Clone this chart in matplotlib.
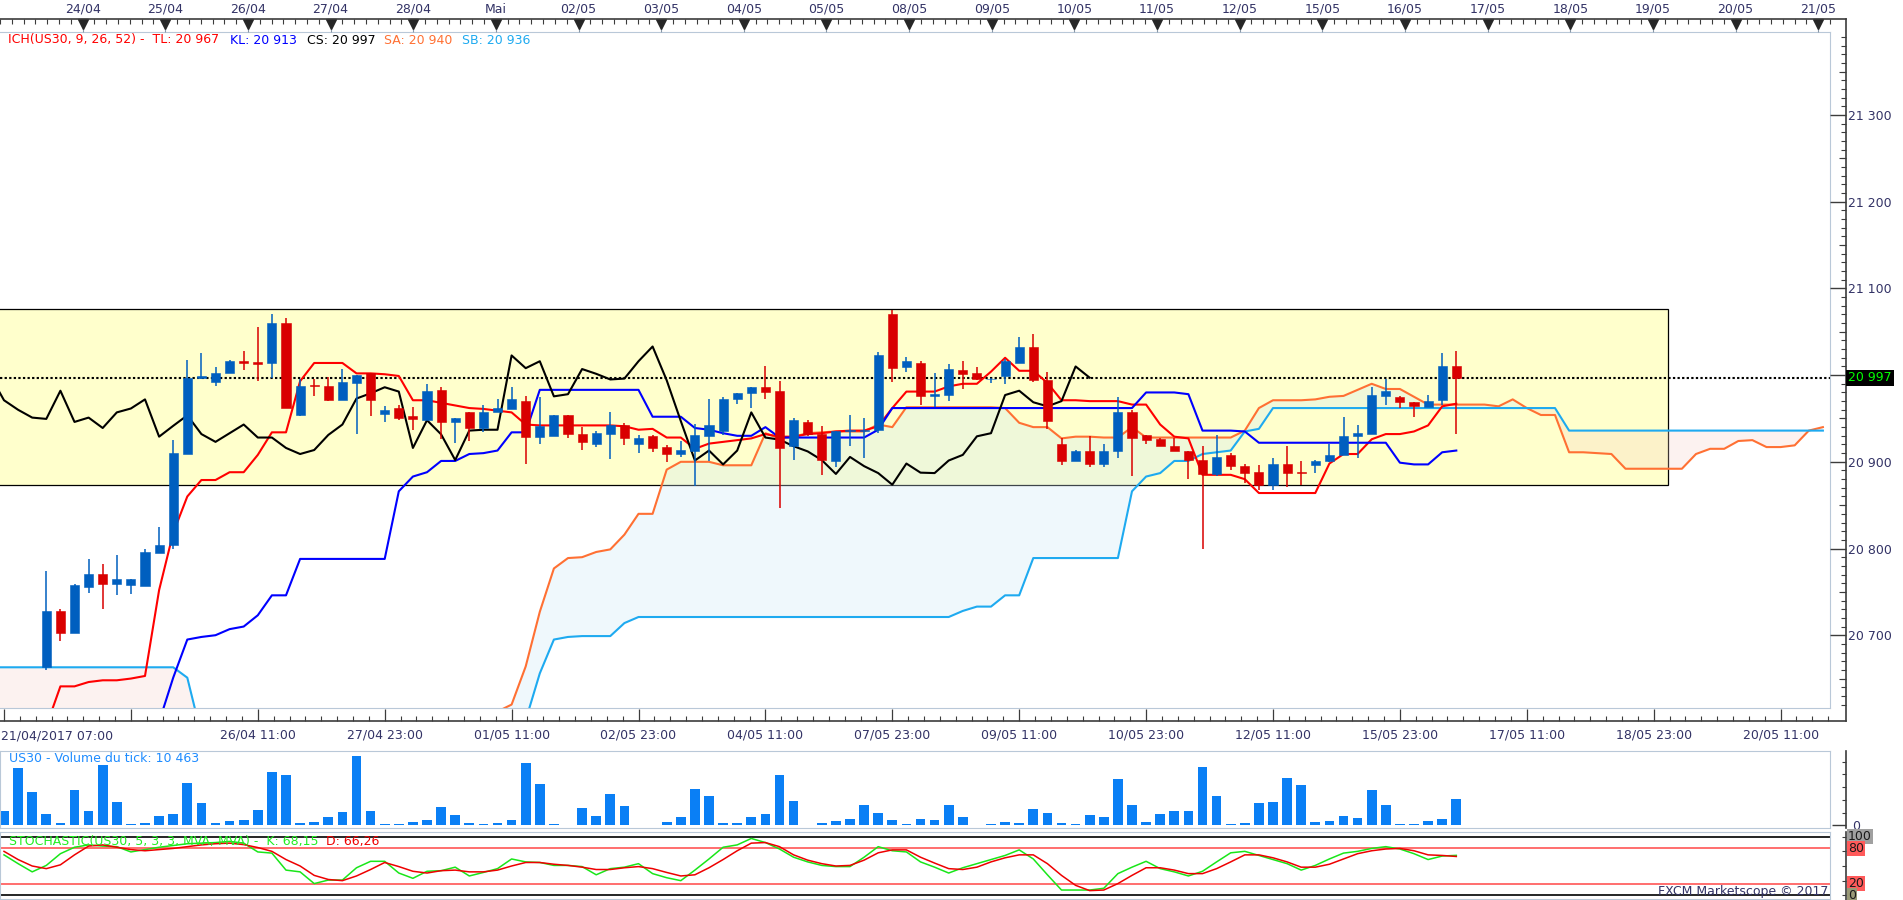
import numpy as np
import matplotlib.pyplot as plt
from matplotlib.patches import Rectangle
from matplotlib.lines import Line2D

# US30 H4 candles (index 0 = 21/04 07:00)
opens = [20560, 20575, 20555, 20663, 20728, 20703, 20756, 20771, 20759, 20758,
         20757, 20795, 20804, 20909, 20997, 20992, 21003, 21016, 21015, 21014,
         21060, 20954, 20989, 20987, 20971, 20991, 21002, 20955, 20962, 20952.5,
         20948, 20983, 20946, 20957, 20938.5, 20957, 20961, 20970.6, 20929, 20930,
         20953.6, 20932, 20921, 20932.5, 20942, 20920, 20930, 20917, 20908.7, 20912.8,
         20930, 20935, 20973, 20979, 20986, 20982, 20918, 20945.7, 20931.7, 20901.5,
         20936, 20936, 20936.6, 21070.6, 21009.5, 21014, 20976, 20977, 21005.7, 21003,
         20995, 20999, 21014, 21033, 20994, 20921, 20901, 20913, 20897, 20912,
         20957, 20931, 20926, 20918.5, 20912.4, 20902.6, 20886, 20908, 20895.5, 20888,
         20873.6, 20898, 20888, 20896, 20901, 20907.5, 20929.4, 20932, 20976, 20974.7,
         20969, 20963, 20971, 21011]
highs = [20585, 20600, 20595, 20774, 20730, 20759, 20788, 20782, 20793, 20765,
         20800, 20825, 20925, 21018, 21026, 21009, 21018, 21028, 21056, 21071,
         21066, 20996, 20995, 20998, 21007, 21000, 21002, 20964, 20966, 20963,
         20990, 20986, 20951, 20957, 20966, 20972, 20986, 20975.5, 20975, 20954,
         20954, 20940, 20935, 20957, 20945, 20931, 20931, 20919, 20924, 20944,
         20973, 20975, 20979, 20986, 21010, 20993.6, 20950.6, 20948, 20941, 20936,
         20953.6, 20951, 21027, 21074.8, 21021, 21016, 21002, 21013, 21016, 21009,
         20997, 21019, 21043.4, 21047, 21004, 20927, 20914, 20930, 20921, 20974.7,
         20960, 20931, 20928, 20928, 20912.4, 20918, 20931, 20910, 20897, 20896,
         20904, 20918, 20901, 20902, 20921, 20952, 20942, 20986, 20996, 20976,
         20969, 20977, 21025, 21028]
lows = [20545, 20540, 20550, 20660, 20693, 20702, 20749, 20730, 20746, 20748,
        20757, 20795, 20799, 20909, 20995, 20988, 21003, 21006, 20993, 20997,
        20962, 20953, 20976, 20970, 20971, 20932, 20953, 20946, 20948, 20937,
        20948, 20926, 20922, 20924, 20934, 20957, 20961, 20897, 20921, 20930,
        20928, 20914, 20916.6, 20903, 20919, 20910, 20911, 20900, 20906, 20872.4,
        20901, 20931, 20967, 20961.5, 20972, 20847, 20902.6, 20930, 20885, 20893.6,
        20918, 20904, 20933, 20992.5, 21004, 20966, 20963, 20970, 20984, 20994,
        20991, 20990, 21014, 20992.5, 20938, 20896, 20901, 20893.6, 20893.6, 20904,
        20884, 20920, 20918, 20912, 20880, 20799, 20884, 20891, 20875.4, 20868,
        20867, 20870.5, 20873.6, 20887, 20900, 20907.5, 20904.5, 20932, 20965, 20961.5,
        20951.7, 20963, 20966, 20932]
closes = [20575, 20555, 20590, 20728, 20703, 20758, 20771, 20759, 20765, 20765,
          20796, 20804, 20910, 20997, 20999, 21003, 21016, 21014, 21013, 21060,
          20962, 20988, 20987, 20971, 20992, 21000, 20971, 20960, 20951, 20949.5,
          20982, 20946, 20951, 20939, 20957, 20961.5, 20972, 20929, 20941.5, 20953.6,
          20932, 20923, 20933, 20943, 20928, 20928, 20916, 20909, 20913.6, 20931,
          20943, 20973, 20979, 20986, 20981, 20916, 20948, 20931.7, 20902, 20936,
          20937, 20937, 21022.7, 21008, 21016, 20975.5, 20978, 21007, 21001.5, 20995,
          20996, 21016, 21033, 20994, 20947, 20901.5, 20913, 20897, 20913, 20957,
          20928, 20925.6, 20918, 20912, 20902, 20886, 20905.6, 20895, 20887, 20873.6,
          20898, 20887.5, 20887, 20901.5, 20908, 20929.4, 20933, 20977, 20982, 20968.7,
          20964, 20970, 21010, 20997]

# Ichimoku lines as drawn (tenkan / kijun per candle)
tenkan = [20590, 20590, 20590, 20595, 20641, 20641, 20646, 20648, 20648, 20650,
          20653, 20752, 20818, 20860, 20879, 20879, 20888, 20888, 20908, 20934,
          20934, 20993, 21014, 21014, 21014, 21002, 21002, 21001, 20999, 20971,
          20971, 20968, 20965, 20962, 20961, 20959, 20957, 20943, 20942, 20942,
          20942, 20942, 20942, 20942, 20941, 20937, 20938, 20928, 20928, 20915,
          20921, 20923, 20925, 20927, 20932, 20929, 20929, 20932, 20933, 20935,
          20936, 20936, 20941, 20962, 20981, 20981, 20981, 20987, 20990, 20990,
          21004, 21020, 21005, 21005, 20991, 20971, 20971, 20970, 20970, 20970,
          20966, 20966, 20943, 20929, 20927, 20885, 20885, 20885, 20880, 20864,
          20864, 20864, 20864, 20864, 20898, 20909, 20909, 20926, 20932, 20932,
          20935, 20942, 20964, 20967]
kijun = [20590, 20590, 20590, 20590, 20590, 20590, 20590, 20590, 20590, 20590,
         20590, 20600, 20651, 20695, 20698, 20700, 20707, 20710, 20723, 20746,
         20746, 20788, 20788, 20788, 20788, 20788, 20788, 20788, 20866, 20883,
         20888, 20901, 20901, 20909, 20910, 20913, 20934, 20934, 20983, 20983,
         20983, 20983, 20983, 20983, 20983, 20983, 20952, 20952, 20952, 20939,
         20937, 20933, 20930, 20930, 20940, 20928, 20928, 20928, 20928, 20928,
         20928, 20928, 20937, 20962, 20962, 20962, 20962, 20962, 20962, 20962,
         20962, 20962, 20962, 20962, 20962, 20962, 20962, 20962, 20962, 20962,
         20962, 20980, 20980, 20980, 20978, 20936, 20936, 20936, 20935, 20922,
         20922, 20922, 20922, 20922, 20922, 20922, 20922, 20922, 20922, 20899,
         20897, 20897, 20911, 20913]

# senkou spans as plotted (already moved 26 forward), positions -1 .. 129
senkou_a = [20570, 20570, 20570, 20570, 20570, 20570, 20570, 20570, 20570, 20570,
            20570, 20570, 20570, 20570, 20570, 20570, 20570, 20570, 20570, 20570,
            20570, 20570, 20570, 20570, 20570, 20570, 20570, 20570, 20570, 20570,
            20570, 20570, 20570, 20570, 20570, 20590, 20612, 20620, 20664, 20727,
            20777, 20789, 20790, 20796, 20799, 20816, 20840, 20840, 20891, 20900,
            20900, 20900, 20896, 20896, 20896, 20933, 20927, 20929, 20933, 20934,
            20935, 20935, 20935, 20943, 20940, 20963, 20963, 20963, 20963, 20963,
            20963, 20963, 20962, 20945, 20940, 20940, 20927, 20929, 20929, 20928,
            20928, 20940, 20928, 20928, 20928, 20928, 20928, 20928, 20928, 20936,
            20962, 20971, 20971, 20971, 20972, 20975, 20976, 20983, 20990, 20984,
            20984, 20975, 20966, 20966, 20966, 20966, 20966, 20964, 20972, 20962,
            20954, 20954, 20911, 20911, 20910, 20909, 20892, 20892, 20892, 20892,
            20892, 20909, 20915, 20915, 20924, 20925, 20917, 20917, 20919, 20936,
            20940]
senkou_b = [20663, 20663, 20663, 20663, 20663, 20663, 20663, 20663, 20663, 20663,
            20663, 20663, 20663, 20663, 20651, 20585, 20585, 20585, 20585, 20585,
            20585, 20585, 20585, 20585, 20585, 20585, 20585, 20585, 20585, 20585,
            20585, 20585, 20585, 20585, 20585, 20585, 20585, 20585, 20602, 20656,
            20695, 20698, 20699, 20699, 20699, 20714, 20721, 20721, 20721, 20721,
            20721, 20721, 20721, 20721, 20721, 20721, 20721, 20721, 20721, 20721,
            20721, 20721, 20721, 20721, 20721, 20721, 20721, 20721, 20721, 20728,
            20733, 20733, 20746, 20746, 20789, 20789, 20789, 20789, 20789, 20789,
            20789, 20866, 20883, 20887, 20901, 20901, 20909, 20911, 20913, 20935,
            20938, 20962, 20962, 20962, 20962, 20962, 20962, 20962, 20962, 20962,
            20962, 20962, 20962, 20962, 20962, 20962, 20962, 20962, 20962, 20962,
            20962, 20962, 20936, 20936, 20936, 20936, 20936, 20936, 20936, 20936,
            20936, 20936, 20936, 20936, 20936, 20936, 20936, 20936, 20936, 20936,
            20936]

# tick volume
volume = [5760, 22370, 13210, 4580, 1050, 14000, 5760, 23800, 9290, 650,
          1050, 3800, 4580, 16740, 8900, 1050, 1830, 2220, 6150, 21060,
          19880, 1050, 1440, 3400, 5370, 27340, 5760, 650, 650, 1440,
          2220, 7330, 4190, 1050, 650, 1050, 2220, 24590, 16350, 650,
          260, 6930, 3800, 12430, 7720, 260, 260, 1440, 3400, 14390,
          11640, 1050, 1050, 3400, 4580, 19880, 9680, 260, 1050, 1830,
          2620, 8110, 4970, 2220, 650, 2620, 2220, 8110, 3400, 260,
          650, 1440, 1050, 6540, 4970, 1050, 650, 4190, 3400, 18310,
          8110, 1440, 4580, 5760, 5760, 23020, 11640, 650, 1050, 8900,
          9290, 18700, 15960, 1440, 1830, 3800, 3010, 14000, 8110, 650,
          650, 1830, 2620, 10463]

# stochastic 5,3,3
stoch_k = [69, 54, 40, 51, 71, 82, 86, 84, 83, 74,
           78, 82, 85, 88, 89, 90, 92, 89, 74, 72,
           43, 40, 20, 26, 26, 47, 58, 58, 38, 29,
           41, 42, 48, 33, 39, 45.5, 62, 57, 56, 51,
           51, 49, 35, 45.5, 48, 54, 37, 30, 25, 43,
           62, 82, 86, 97, 90, 79, 65, 57, 51, 49,
           49, 65, 83, 76, 74, 57, 48, 38, 47, 54,
           61, 68, 77.5, 62, 35, 9, 9, 9, 12, 37,
           48, 58, 45.5, 40, 33, 41, 57, 72.5, 75, 68,
           61, 54, 43, 51, 62, 72, 75, 80, 83, 79,
           71, 61, 67, 68.15]
stoch_d = [75, 61, 50, 45.5, 52, 69, 84, 86, 82, 78,
           76, 78, 80, 83, 86, 88, 89, 86.5, 81.5, 75,
           61, 50, 34, 27, 25, 33, 44, 56, 49, 41,
           38, 42, 43, 40, 40, 43, 50, 56, 56, 53,
           51, 48, 44, 44, 47, 49, 45.5, 39, 33, 35,
           47, 61, 76, 89, 90, 83, 69, 60, 54, 50,
           51, 60, 72.5, 77.5, 77.5, 65, 55, 45.5, 44, 48,
           57, 64, 69, 69, 54, 34, 17, 8, 9, 20,
           34, 47, 47, 43, 37, 37, 45.5, 57, 69, 69,
           64, 57, 48, 48, 53, 62, 71, 76, 79, 80,
           76, 69, 68, 66.26]

top_dates = ["24/04", "25/04", "26/04", "27/04", "28/04", "Mai", "02/05", "03/05",
             "04/05", "05/05", "08/05", "09/05", "10/05", "11/05", "12/05", "15/05",
             "16/05", "17/05", "18/05", "19/05", "20/05", "21/05"]
bottom_dates = ["21/04/2017 07:00", "", "26/04 11:00", "27/04 23:00", "01/05 11:00",
                "02/05 23:00", "04/05 11:00", "07/05 23:00", "09/05 11:00",
                "10/05 23:00", "12/05 11:00", "15/05 23:00", "17/05 11:00",
                "18/05 23:00", "20/05 11:00"]

SHIFT = 26
BOX_LOW, BOX_HIGH, BOX_END = 20873, 21076, 118.0

# layout in pixels
W, H = 1903, 900
PX = 14.1      # pixels per candle
X_OFF = 4      # pixel x of candle 0
RIGHT = 1830   # right border of the panels
AXIS_X = 1845.7
XL = (-X_OFF / PX, (RIGHT - X_OFF) / PX)
YL = (20615.7, 21395.4)

TXT = '#333366'
BORDER = '#b9c8d8'
DARK = '#3c3c3c'
UP, DOWN = '#005fbf', '#d90000'
C_TL, C_KL, C_CS, C_SA, C_SB = '#ff0000', '#0000ff', '#000000', '#ff7033', '#1eaaf0'

plt.rcParams['font.family'] = ['DejaVu Sans']
plt.rcParams['font.size'] = 9


def rect(x0, y0, x1, y1):
    return [x0 / W, 1 - y1 / H, (x1 - x0) / W, (y1 - y0) / H]


def fmt(v):
    return f"{v:,.0f}".replace(",", " ")


def ftext(x, y, s, **kw):
    return fig.text(x / W, 1 - y / H, s, va='center', **kw)


fig = plt.figure(figsize=(W / 100, H / 100), dpi=100)

# ---------------- main price panel ----------------
ax = fig.add_axes(rect(0, 32.3, RIGHT, 708.3))
ax.set_xlim(XL)
ax.set_ylim(YL)
ax.set_xticks([])
ax.set_yticks([])
for s in ax.spines.values():
    s.set_color(BORDER)
ax.spines['left'].set_visible(False)

ax.add_patch(Rectangle((XL[0] - 1, BOX_LOW), BOX_END - XL[0] + 1, BOX_HIGH - BOX_LOW,
                       fc='#ffffcc', ec='black', lw=0.9, zorder=0.5))

xc = np.arange(len(senkou_a)) - 1
sa = np.array(senkou_a, float)
sb = np.array(senkou_b, float)
ax.fill_between(xc, sa, sb, where=sa >= sb, interpolate=True, color='#cce8f8',
                alpha=0.3, lw=0, zorder=1)
ax.fill_between(xc, sa, sb, where=sa < sb, interpolate=True, color='#f4cfc4',
                alpha=0.25, lw=0, zorder=1)
ax.plot(xc, sa, color=C_SA, lw=1.5, zorder=2)
ax.plot(xc, sb, color=C_SB, lw=1.5, zorder=2)

ax.axhline(closes[-1], color='black', lw=1.5, ls=(0, (1.1, 1.1)), zorder=2.5)

idx = np.arange(len(closes))
ax.plot(idx, tenkan, color=C_TL, lw=1.5, zorder=2.6)
ax.plot(idx, kijun, color=C_KL, lw=1.5, zorder=2.6)
ax.plot(idx - SHIFT, closes, color=C_CS, lw=1.5, zorder=2.6)

o = np.array(opens)
c = np.array(closes)
col = np.where(c >= o, UP, DOWN)
ax.vlines(idx, lows, highs, colors=col, lw=1.1, zorder=3)
body_h = np.maximum(np.abs(c - o), 1.0)
body_lo = np.minimum(o, c) - (body_h - np.abs(c - o)) / 2
ax.bar(idx, body_h, bottom=body_lo, width=0.64, color=col, edgecolor=col, lw=0.4, zorder=3.1)

# header
ftext(8, 40, "ICH(US30, 9, 26, 52) -  TL: " + fmt(tenkan[-1]), color=C_TL)
ftext(230, 40, "KL: " + fmt(kijun[-1]), color=C_KL)
ftext(307, 40, "CS: " + fmt(closes[-1]), color=C_CS)
ftext(384, 40, "SA: " + fmt(senkou_a[-1]), color=C_SA)
ftext(462, 40, "SB: " + fmt(senkou_b[-1]), color=C_SB)

# right price scale
ax_r = fig.add_axes(rect(RIGHT, 32.3, AXIS_X, 708.3))
ax_r.set_ylim(YL)
ax_r.set_xlim(0, 1)
ax_r.patch.set_visible(False)
for s in ax_r.spines.values():
    s.set_visible(False)
ax_r.set_xticks([])
ax_r.yaxis.tick_right()
majors = np.arange(20700, 21301, 100)
ax_r.set_yticks(majors)
ax_r.set_yticklabels(["" if m == 21000 else fmt(m) for m in majors])
ax_r.set_yticks(np.arange(20620, 21391, 10), minor=True)
ax_r.tick_params(axis='y', which='major', direction='in', length=11.3, width=1,
                 color=DARK, pad=1.7, labelsize=9, labelcolor=TXT)
ax_r.tick_params(axis='y', which='minor', direction='in', length=3.6, width=0.8, color=DARK)
ax_r.hlines(np.arange(20650, 21391, 100), 1 - 7 / 15.7, 1, color=DARK, lw=0.8)

ftext(1848, 378, fmt(closes[-1]), color='#00ff00', ha='left',
      bbox=dict(boxstyle='square,pad=0.15', fc='black', ec='none'))

# top date axis
ax_t = fig.add_axes(rect(0, 19.3, RIGHT, 32.3))
ax_t.set_xlim(XL)
ax_t.set_ylim(0, 1)
ax_t.patch.set_visible(False)
for s in ax_t.spines.values():
    s.set_visible(False)
ax_t.set_yticks([])
top_idx = 3 + 6 * np.arange(len(top_dates))
ax_t.xaxis.tick_top()
ax_t.set_xticks(top_idx)
ax_t.set_xticklabels(top_dates)
ax_t.set_xticks(np.arange(3 - 6, 130, 6 / 7), minor=True)
ax_t.tick_params(axis='x', which='major', direction='in', length=9.4, width=0.8,
                 color='#8898a8', pad=2.4, labelsize=9, labelcolor=TXT)
ax_t.tick_params(axis='x', which='minor', direction='in', length=3.6, width=0.8, color=DARK)
ax_t.plot(top_idx, np.full(len(top_idx), 0.62), 'v', ms=7, color='#262626', clip_on=False)

# bottom date axis
ax_b = fig.add_axes(rect(0, 708.3, RIGHT, 720.7))
ax_b.set_xlim(XL)
ax_b.set_ylim(0, 1)
ax_b.patch.set_visible(False)
for s in ax_b.spines.values():
    s.set_visible(False)
ax_b.set_yticks([])
bot_idx = 9 * np.arange(len(bottom_dates))
ax_b.set_xticks(bot_idx)
ax_b.set_xticklabels([""] + bottom_dates[1:])
ax_b.set_xticks(np.arange(0, 130, 9 / 8), minor=True)
ax_b.tick_params(axis='x', which='major', direction='in', length=8.9, width=0.9,
                 color=DARK, pad=5.8, labelsize=9, labelcolor=TXT)
ax_b.tick_params(axis='x', which='minor', direction='in', length=3.6, width=0.8, color=DARK)
ftext(1, 736, bottom_dates[0], color=TXT, ha='left')

# frame lines of the price panel
for xs, ys in [((0, AXIS_X), (19.3, 19.3)), ((AXIS_X, AXIS_X), (19.3, 720.7)),
               ((0, AXIS_X), (720.7, 720.7))]:
    fig.add_artist(Line2D([x / W for x in xs], [1 - y / H for y in ys], color=DARK, lw=1.2))

# ---------------- volume panel ----------------
ax_v = fig.add_axes(rect(0, 750.7, RIGHT, 828.3))
ax_v.set_xlim(XL)
ax_v.set_ylim(-1100, 29300)
ax_v.bar(idx, volume, width=0.69, color='#0a7ff5', lw=0)
ax_v.set_xticks([])
ax_v.set_yticks([])
for s in ax_v.spines.values():
    s.set_color(BORDER)
ftext(8.7, 758.3, "US30 - Volume du tick: " + fmt(volume[-1]), color='#1e8cff', ha='left')

ax_vr = fig.add_axes(rect(RIGHT, 750.7, AXIS_X, 828.3))
ax_vr.set_ylim(-1100, 29300)
ax_vr.patch.set_visible(False)
for k, s in ax_vr.spines.items():
    s.set_visible(k == 'right')
    s.set_color(DARK)
    s.set_linewidth(1.2)
ax_vr.set_xticks([])
ax_vr.yaxis.tick_right()
ax_vr.set_yticks([0])
ax_vr.set_yticklabels(["0"])
ax_vr.set_yticks(np.arange(5000, 25001, 5000), minor=True)
ax_vr.tick_params(axis='y', which='major', direction='in', length=10, width=1, color=DARK,
                  pad=4.3, labelsize=9, labelcolor=TXT)
ax_vr.tick_params(axis='y', which='minor', direction='in', length=3, width=0.8, color=DARK)

# ---------------- stochastic panel ----------------
ax_s = fig.add_axes(rect(0, 832.3, RIGHT, 899))
ax_s.set_xlim(XL)
ax_s.set_ylim(-6.3, 107.5)
ax_s.set_xticks([])
ax_s.set_yticks([])
for s in ax_s.spines.values():
    s.set_color(BORDER)
ax_s.axhline(100, color='black', lw=1.2)
ax_s.axhline(0, color='black', lw=1.2)
ax_s.axhline(80, color='#ff4646', lw=1.1)
ax_s.axhline(20, color='#ff4646', lw=1.1)
ax_s.plot(idx, stoch_k, color='#19e619', lw=1.1)
ax_s.plot(idx, stoch_d, color='#ee0000', lw=1.1)

ftext(8.7, 841, "STOCHASTIC(US30, 5, 3, 3, MVA, MVA) -  K: "
      + f"{stoch_k[-1]:.2f}".replace(".", ","), color='#22ee22', ha='left', zorder=5)
ftext(325.7, 841, "D: " + f"{stoch_d[-1]:.2f}".replace(".", ","), color='#ee0000',
      ha='left', zorder=5)
ftext(1828, 891.7, "FXCM Marketscope \u00a9 2017", color=TXT, ha='right')

ax_sr = fig.add_axes(rect(RIGHT, 832.3, AXIS_X, 900))
ax_sr.set_ylim(-6.3 - 1.7, 107.5)
ax_sr.patch.set_visible(False)
for k, s in ax_sr.spines.items():
    s.set_visible(k == 'right')
    s.set_color(DARK)
    s.set_linewidth(1.2)
ax_sr.set_xticks([])
ax_sr.yaxis.tick_right()
ax_sr.set_yticks([0, 25, 50, 75, 100])
ax_sr.set_yticklabels([])
ax_sr.tick_params(axis='y', direction='in', length=3, width=0.8, color=DARK)

for val, y, bg in [("100", 836.7, '#a0a0a0'), ("80", 848.3, '#ff5a5a'),
                   ("20", 883.3, '#ff5a5a'), ("0", 895.3, '#9a9a78')]:
    ftext(1848, y, val, color='#1a1a1a', ha='left',
          bbox=dict(boxstyle='square,pad=0.08', fc=bg, ec='none'))

fig.savefig('out.png', dpi=100)
